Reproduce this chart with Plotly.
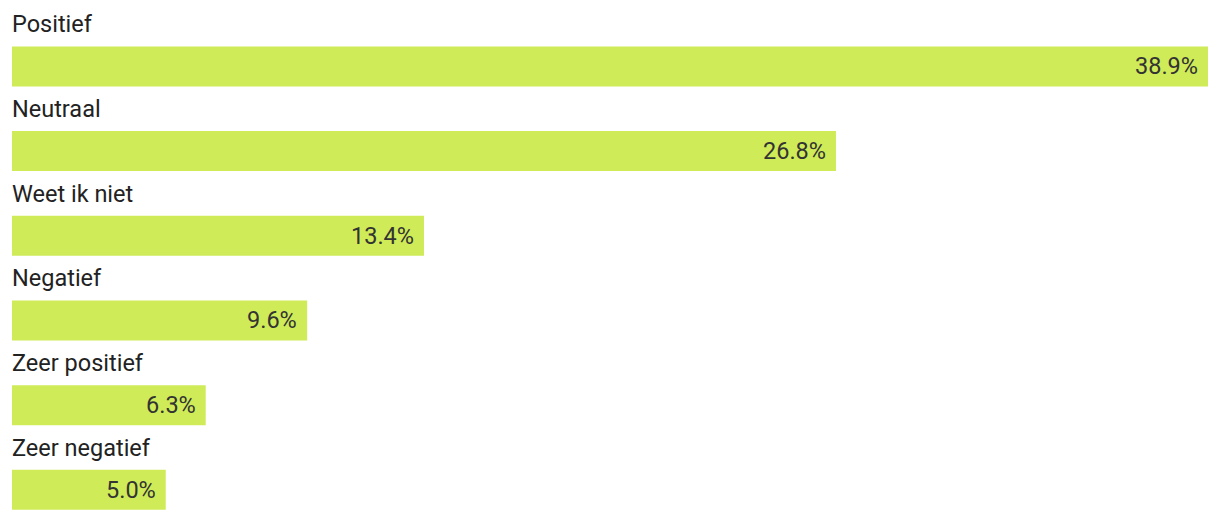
import plotly.graph_objects as go

categories = ["Positief", "Neutraal", "Weet ik niet", "Negatief", "Zeer positief", "Zeer negatief"]
values = [38.9, 26.8, 13.4, 9.6, 6.3, 5.0]
value_labels = ["38.9%", "26.8%", "13.4%", "9.6%", "6.3%", "5.0%"]

BAR_COLOR = "#cfeb58"
TEXT_COLOR = "#333333"
FONT = "Roboto"
FS = 23.5

pos = list(range(len(categories)))

fig = go.Figure()
fig.add_trace(go.Bar(
    x=values, y=pos, orientation="h",
    marker=dict(color=BAR_COLOR, line=dict(width=0)),
    width=0.472, hoverinfo="skip",
))

annotations = []
for i, (c, v, t) in enumerate(zip(categories, values, value_labels)):
    annotations.append(dict(
        x=0, y=i, xref="x", yref="y", text=c, showarrow=False,
        xanchor="left", yanchor="bottom", yshift=26, xshift=-2,
        font=dict(family=FONT, size=FS, color="#222222"),
    ))
    annotations.append(dict(
        x=v, y=i, xref="x", yref="y", text=t, showarrow=False,
        xanchor="right", yanchor="middle", xshift=-8,
        font=dict(family=FONT, size=FS, color=TEXT_COLOR),
    ))

fig.update_layout(
    width=1212, height=514,
    margin=dict(l=4, r=12, t=0, b=0),
    paper_bgcolor="white", plot_bgcolor="white",
    showlegend=False,
    xaxis=dict(range=[0, 38.9], visible=False, fixedrange=True),
    yaxis=dict(range=[5.38, -0.69], visible=False, fixedrange=True),
    annotations=annotations,
    font=dict(family=FONT),
)

fig.write_html("out.html", config={"displayModeBar": False})
